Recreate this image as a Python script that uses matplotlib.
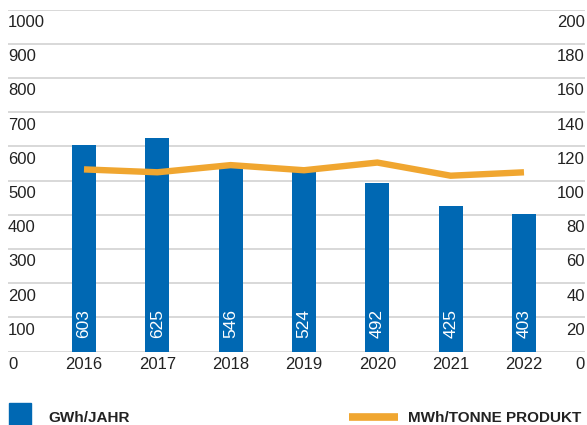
import matplotlib
matplotlib.use("Agg")
import matplotlib.pyplot as plt
import matplotlib.transforms as mtransforms
from matplotlib.patches import Rectangle
from matplotlib.lines import Line2D

years = ["2016", "2017", "2018", "2019", "2020", "2021", "2022"]
gwh = [603, 625, 546, 524, 492, 425, 403]
mwh_per_t = [106.5, 104.8, 109.0, 106.0, 110.5, 102.8, 104.8]
left_ticks = [0, 100, 200, 300, 400, 500, 600, 700, 800, 900, 1000]
right_ticks = [0, 20, 40, 60, 80, 100, 120, 140, 160, 180, 200]

BLUE = "#0068B3"
ORANGE = "#F0A630"
GRID = "#D6D6D6"
TXT = "#222222"

plt.rcParams["font.family"] = ["Liberation Sans", "DejaVu Sans"]

W, H = 587, 425
fig = plt.figure(figsize=(W / 100, H / 100), dpi=100)
ax_l, ax_r = 8, 585
ax_t, ax_b = 9.5, 351.5
ax = fig.add_axes([ax_l / W, (H - ax_b) / H, (ax_r - ax_l) / W, (ax_b - ax_t) / H])
ax2 = ax.twinx()

x = list(range(len(years)))
step = 73.33
x0px = 84
ax.set_xlim((ax_l - x0px) / step, (ax_r - x0px) / step)
ax.set_ylim(0, 1000)
ax2.set_ylim(0, 200)

for a in (ax, ax2):
    for s in a.spines.values():
        s.set_visible(False)
    a.set_yticks([])
    a.tick_params(length=0)

# grid lines
for v in left_ticks:
    ax.axhline(v, color=GRID, lw=1.3, zorder=0)

ax.bar(x, gwh, width=24 / step, color=BLUE, zorder=2)
ax2.plot(x, mwh_per_t, color=ORANGE, lw=4.6, solid_capstyle="butt",
         solid_joinstyle="miter", zorder=3)
ax2.set_zorder(ax.get_zorder() + 1)
ax2.patch.set_visible(False)

# bar value labels
off_up = mtransforms.ScaledTranslation(0, 14 / 100, fig.dpi_scale_trans)
for xi, v in zip(x, gwh):
    ax.text(xi, 0, f"{v}", rotation=90, ha="center", va="bottom", color="white",
            fontsize=12.5, transform=ax.transData + off_up, zorder=4)

# y tick labels (below grid lines)
off_dn = mtransforms.ScaledTranslation(0, -13 / 100, fig.dpi_scale_trans)
tl = mtransforms.blended_transform_factory(ax.transAxes, ax.transData)
for v in left_ticks:
    ax.text(0, v, f"{v}", ha="left", va="center", fontsize=12, color=TXT,
            transform=tl + off_dn)
tr = mtransforms.blended_transform_factory(ax2.transAxes, ax2.transData)
for v in right_ticks:
    ax2.text(1, v, f"{v}", ha="right", va="center", fontsize=12, color=TXT,
             transform=tr + off_dn)

# x labels
ax.set_xticks(x)
ax.set_xticklabels(years, fontsize=12, color=TXT)
ax.tick_params(axis="x", pad=4, length=0)

# legend (manual)
def fx(px):
    return px / W

def fy(py):
    return (H - py) / H

fig.add_artist(Rectangle((fx(9), fy(425)), 22 / W, 22 / H, transform=fig.transFigure,
                         color=BLUE, clip_on=False))
fig.text(fx(48), fy(418), "GWh/JAHR", fontsize=11, fontweight="bold", color=TXT,
         ha="left", va="center")
fig.add_artist(Line2D([fx(349), fx(398)], [fy(417), fy(417)], transform=fig.transFigure,
                      color=ORANGE, lw=5.5, solid_capstyle="butt"))
fig.text(fx(408), fy(418), "MWh/TONNE PRODUKT", fontsize=11, fontweight="bold",
         color=TXT, ha="left", va="center")

fig.savefig("out.png", dpi=100)
